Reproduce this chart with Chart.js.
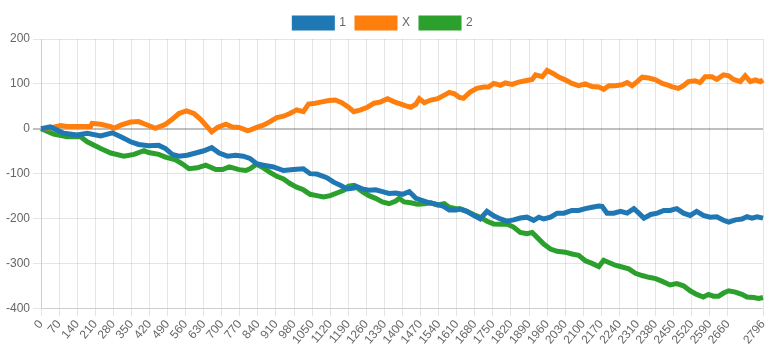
<!DOCTYPE html>
<html>
<head>
<meta charset="utf-8">
<script src="https://cdn.jsdelivr.net/npm/chart.js@4/dist/chart.umd.min.js"></script>
<style>
  html, body { margin: 0; padding: 0; background: #fff; }
  #wrap { width: 777px; height: 348px; }
</style>
</head>
<body>
<div id="wrap"><canvas id="lineChart"></canvas></div>
<script>
// x labels: step index 0..2796
const lastStep = 2796;
const steps = Array.from({ length: lastStep + 1 }, (_, i) => i);

// series "1" (blue) - readings at step indexes
const s1Index = [0, 36, 88, 140, 179, 231, 276, 309, 347, 378, 417, 456, 482, 508, 534, 566, 599, 631, 661, 690, 722, 754, 783, 809, 835, 861, 900, 939, 977, 1016, 1042, 1068, 1107, 1133, 1159, 1185, 1211, 1219, 1244, 1270, 1296, 1322, 1348, 1374, 1400, 1426, 1452, 1478, 1504, 1530, 1556, 1581, 1607, 1623, 1649, 1675, 1701, 1727, 1753, 1779, 1804, 1830, 1856, 1882, 1908, 1928, 1947, 1973, 1999, 2025, 2056, 2082, 2108, 2134, 2160, 2173, 2192, 2218, 2244, 2270, 2296, 2315, 2335, 2361, 2387, 2412, 2436, 2462, 2488, 2514, 2539, 2565, 2591, 2617, 2643, 2663, 2689, 2714, 2734, 2753, 2773, 2796];
const s1Values = [0, 4, -10, -14, -10, -16, -9, -18, -29, -35, -38, -37, -44, -57, -61, -59, -54, -49, -42, -54, -61, -59, -61, -66, -78, -81, -85, -93, -91, -89, -100, -101, -109, -119, -126, -134, -132, -128, -134, -137, -136, -140, -144, -143, -146, -140, -155, -160, -165, -168, -172, -181, -181, -179, -184, -193, -201, -184, -194, -201, -206, -203, -199, -197, -204, -197, -201, -197, -188, -188, -182, -182, -178, -175, -172, -173, -188, -188, -184, -188, -178, -188, -199, -191, -188, -182, -182, -178, -188, -193, -184, -193, -197, -196, -204, -208, -203, -201, -196, -199, -196, -199];

// series "X" (orange)
const sXIndex = [0, 36, 75, 101, 140, 192, 198, 231, 270, 283, 309, 347, 378, 404, 443, 482, 508, 534, 563, 592, 618, 644, 661, 683, 716, 741, 767, 800, 809, 835, 861, 887, 913, 939, 964, 990, 1016, 1036, 1062, 1088, 1114, 1139, 1165, 1191, 1211, 1238, 1264, 1290, 1316, 1342, 1368, 1394, 1413, 1432, 1452, 1465, 1484, 1510, 1536, 1562, 1581, 1601, 1620, 1636, 1662, 1688, 1714, 1733, 1753, 1779, 1798, 1824, 1850, 1876, 1902, 1915, 1941, 1960, 1986, 2005, 2030, 2056, 2082, 2108, 2134, 2160, 2179, 2199, 2224, 2250, 2270, 2289, 2309, 2328, 2354, 2380, 2406, 2425, 2442, 2468, 2488, 2507, 2533, 2552, 2572, 2598, 2617, 2643, 2663, 2682, 2708, 2727, 2747, 2766, 2786, 2796];
const sXValues = [0, 2, 7, 5, 5, 5, 12, 10, 5, 1, 8, 15, 16, 10, 1, 10, 21, 34, 40, 34, 21, 4, -7, 3, 10, 4, 3, -4, -3, 3, 8, 16, 25, 28, 34, 42, 38, 55, 57, 60, 63, 64, 58, 48, 38, 42, 48, 57, 60, 67, 60, 55, 51, 48, 55, 67, 58, 64, 67, 75, 81, 78, 70, 68, 82, 90, 93, 93, 101, 97, 102, 99, 104, 107, 110, 120, 116, 130, 122, 115, 109, 101, 96, 100, 94, 93, 88, 96, 96, 98, 103, 96, 105, 115, 113, 109, 101, 98, 94, 90, 96, 105, 107, 103, 116, 116, 110, 120, 118, 110, 105, 118, 105, 109, 105, 109];

// series "2" (green)
const s2Index = [0, 49, 101, 153, 179, 231, 270, 321, 360, 399, 417, 456, 482, 521, 547, 573, 605, 638, 677, 703, 729, 767, 793, 809, 835, 861, 887, 913, 939, 964, 990, 1016, 1042, 1068, 1094, 1120, 1146, 1172, 1191, 1211, 1244, 1270, 1296, 1322, 1348, 1374, 1387, 1406, 1432, 1458, 1484, 1510, 1536, 1562, 1581, 1607, 1623, 1649, 1675, 1701, 1727, 1753, 1779, 1804, 1830, 1856, 1882, 1902, 1921, 1947, 1973, 1999, 2030, 2056, 2082, 2108, 2134, 2160, 2179, 2199, 2224, 2250, 2276, 2302, 2328, 2354, 2380, 2406, 2436, 2462, 2488, 2514, 2539, 2565, 2585, 2604, 2624, 2643, 2663, 2689, 2714, 2734, 2760, 2779, 2796];
const s2Values = [0, -12, -18, -18, -29, -44, -54, -61, -57, -49, -53, -57, -63, -69, -78, -89, -87, -81, -91, -91, -85, -91, -93, -89, -79, -87, -97, -106, -112, -122, -130, -136, -146, -149, -152, -149, -143, -137, -128, -126, -140, -149, -155, -163, -167, -161, -155, -163, -165, -168, -167, -165, -170, -167, -175, -178, -178, -184, -191, -197, -206, -212, -213, -212, -219, -231, -234, -231, -242, -257, -268, -273, -275, -279, -282, -294, -300, -307, -293, -298, -304, -308, -312, -322, -327, -331, -334, -340, -348, -345, -350, -361, -369, -375, -369, -373, -373, -366, -361, -364, -369, -375, -376, -378, -376];

const yTicks = [-400, -300, -200, -100, 0, 100, 200];
const xTickStep = 70;
const xTickStop = 2660;

function toPoints(idx, vals) {
    return idx.map((x, i) => ({ x: x, y: vals[i] }));
}

Chart.defaults.font.family = "'Liberation Sans', Arial, sans-serif";
Chart.defaults.font.size = 12;
Chart.defaults.color = '#666';

new Chart(document.getElementById('lineChart'), {
    type: 'line',
    data: {
        labels: steps,
        datasets: [{
            label: '1',
            data: toPoints(s1Index, s1Values),
            borderColor: '#1f77b4',
            backgroundColor: '#1f77b4',
            borderWidth: 5,
            pointRadius: 0,
            fill: false
        }, {
            label: 'X',
            data: toPoints(sXIndex, sXValues),
            borderColor: '#ff7f0e',
            backgroundColor: '#ff7f0e',
            borderWidth: 5,
            pointRadius: 0,
            fill: false
        }, {
            label: '2',
            data: toPoints(s2Index, s2Values),
            borderColor: '#2ca02c',
            backgroundColor: '#2ca02c',
            borderWidth: 5,
            pointRadius: 0,
            fill: false
        }]
    },
    options: {
        responsive: true,
        maintainAspectRatio: false,
        animation: false,
        layout: { padding: { top: 7, left: 3, right: 14 } },
        plugins: {
            legend: {
                labels: {
                    generateLabels: function(chart) {
                        const items = Chart.defaults.plugins.legend.labels.generateLabels(chart);
                        items.forEach(item => { item.lineWidth = 3; });
                        return items;
                    }
                }
            },
            tooltip: { enabled: false }
        },
        scales: {
            x: {
                ticks: {
                    autoSkip: false,
                    padding: 1,
                    callback: function(value, index) {
                        if ((index % xTickStep === 0 && index <= xTickStop) || index === lastStep) {
                            return this.getLabelForValue(value);
                        }
                        return null;
                    }
                },
                grid: { color: 'rgba(0,0,0,0.1)' }
            },
            y: {
                min: yTicks[0],
                max: yTicks[yTicks.length - 1],
                ticks: { stepSize: 100 },
                grid: {
                    color: ctx => ctx.tick && ctx.tick.value === 0 ? 'rgba(0,0,0,0.25)' : 'rgba(0,0,0,0.1)',
                    lineWidth: ctx => ctx.tick && ctx.tick.value === 0 ? 2 : 1
                }
            }
        }
    }
});
</script>
</body>
</html>
